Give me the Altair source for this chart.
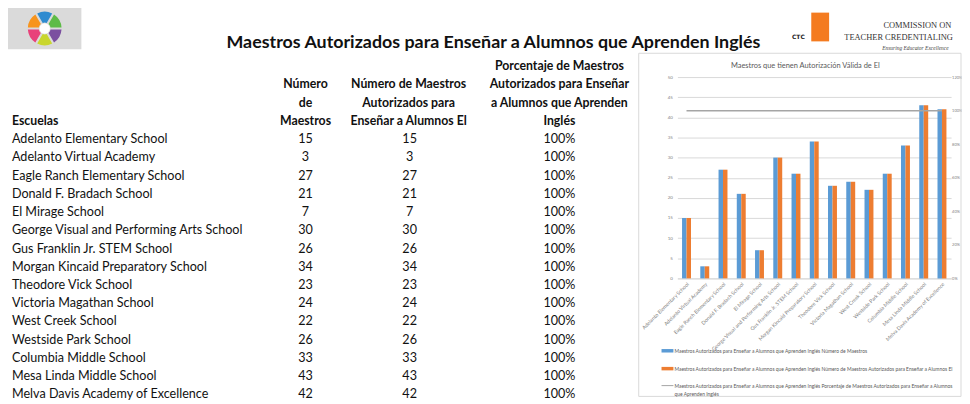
import altair as alt
import pandas as pd

# ---------------- data ----------------
escuelas = [
    "Adelanto Elementary School",
    "Adelanto Virtual Academy",
    "Eagle Ranch Elementary School",
    "Donald F. Bradach School",
    "El Mirage School",
    "George Visual and Performing Arts School",
    "Gus Franklin Jr. STEM School",
    "Morgan Kincaid Preparatory School",
    "Theodore Vick School",
    "Victoria Magathan School",
    "West Creek School",
    "Westside Park School",
    "Columbia Middle School",
    "Mesa Linda Middle School",
    "Melva Davis Academy of Excellence",
]
num_maestros = [15, 3, 27, 21, 7, 30, 26, 34, 23, 24, 22, 26, 33, 43, 42]
num_autorizados = [15, 3, 27, 21, 7, 30, 26, 34, 23, 24, 22, 26, 33, 43, 42]
porcentaje = [1.0, 1.0, 1.0, 1.0, 1.0, 1.0, 1.0, 1.0, 1.0, 1.0, 1.0, 1.0, 1.0, 1.0, 1.0]

titulo = "Maestros Autorizados para Enseñar a Alumnos que Aprenden Inglés"
titulo_grafica = "Maestros que tienen Autorización Válida de El"

serie_a = "Maestros Autorizados para Enseñar a Alumnos que Aprenden Inglés Número de Maestros"
serie_b = ("Maestros Autorizados para Enseñar a Alumnos que Aprenden Inglés Número de Maestros "
           "Autorizados para Enseñar a Alumnos El")
serie_c = ("Maestros Autorizados para Enseñar a Alumnos que Aprenden Inglés Porcentaje de Maestros "
           "Autorizados para Enseñar a Alumnos que Aprenden Inglés")
serie_c_l1 = ("Maestros Autorizados para Enseñar a Alumnos que Aprenden Inglés Porcentaje de Maestros "
              "Autorizados para Enseñar a Alumnos")
serie_c_l2 = "que Aprenden Inglés"

enc_escuelas = ["Escuelas"]
enc_col1 = ["Número", "de", "Maestros"]
enc_col2 = ["Número de Maestros", "Autorizados para", "Enseñar a Alumnos El"]
enc_col3 = ["Porcentaje de Maestros", "Autorizados para Enseñar", "a Alumnos que Aprenden", "Inglés"]

logo_colores = ["#F7941D", "#C9D62E", "#5DBB46", "#2E8BD0", "#7B4FA0", "#E8417A"]
logo_partes = [1, 1, 1, 1, 1, 1]

# ---------------- tables ----------------
tabla = pd.DataFrame({
    "Escuela": escuelas,
    "N": num_maestros,
    "NA": num_autorizados,
    "Pct": [f"{p:.0%}" for p in porcentaje],
    "r": list(range(len(escuelas))),
})

barras_df = pd.concat([
    pd.DataFrame({"Escuela": escuelas, "Serie": serie_a, "Valor": num_maestros}),
    pd.DataFrame({"Escuela": escuelas, "Serie": serie_b, "Valor": num_autorizados}),
], ignore_index=True)
linea_df = pd.DataFrame({"Escuela": escuelas, "Serie": serie_c, "Pct": porcentaje})

leyenda_df = pd.DataFrame({
    "Serie": [serie_a, serie_b, serie_c, serie_c],
    "t": [serie_a, serie_b, serie_c_l1, serie_c_l2],
    "k": [0.0, 1.0, 1.95, 2.42],
    "tipo": ["barra", "barra", "linea", "texto"],
})

def encabezado(lineas):
    n = len(lineas)
    return pd.DataFrame({"t": lineas, "r": [i - n for i in range(n)]})

# ---------------- layout helpers ----------------
OX, OY = 683, 76          # page position of plot-area origin
ROW0, ROWH = 138.5, 18.4  # page y of first table row, row spacing
R_TOP = (OY - ROW0) / ROWH
R_BOT = (OY + 203 - ROW0) / ROWH
row_scale = alt.Scale(domain=[R_TOP, R_BOT], reverse=True, nice=False, zero=False)

LEG0, LEGH = 352, 18      # page y of first legend entry, entry spacing
leg_scale = alt.Scale(domain=[(OY - LEG0) / LEGH, (OY + 203 - LEG0) / LEGH],
                      reverse=True, nice=False, zero=False)

FONT = "Lato"
TXT = "#111111"
GRIS = "#595959"

def px(x):
    return x - OX

def py(y):
    return y - OY

def col_texto(df, field, xpage, align, bold=False):
    return alt.Chart(df).mark_text(
        align=align, baseline="middle", font=FONT,
        fontSize=12.4 if bold else 12.7,
        fontWeight="bold" if bold else "normal", color=TXT
    ).encode(
        x=alt.value(px(xpage)),
        y=alt.Y("r:Q", scale=row_scale, axis=None),
        text=f"{field}:N",
    )

# ---------------- chart layers ----------------
colores = alt.Scale(domain=[serie_a, serie_b, serie_c], range=["#5B9BD5", "#ED7D31", "#A5A5A5"])

x_enc = alt.X(
    "Escuela:N", sort=escuelas,
    scale=alt.Scale(paddingInner=0.51, paddingOuter=0.255),
    axis=alt.Axis(title=None, labelAngle=-45, labelFontSize=5.2, labelColor="#7F7F7F",
                  labelFont=FONT, ticks=False, domainColor="#D9D9D9", labelPadding=3,
                  labelLimit=300),
)

barras = alt.Chart(barras_df).mark_bar().encode(
    x=x_enc,
    xOffset=alt.XOffset("Serie:N", sort=[serie_a, serie_b],
                        scale=alt.Scale(paddingInner=0, paddingOuter=0)),
    y=alt.Y("Valor:Q", scale=alt.Scale(domain=[0, 50], nice=False),
            axis=alt.Axis(orient="left", title=None, values=list(range(0, 51, 5)),
                          grid=True, gridColor="#D9D9D9", domain=False, ticks=False,
                          labelFontSize=4.5, labelColor="#7F7F7F", labelFont=FONT,
                          labelPadding=5)),
    color=alt.Color("Serie:N", scale=colores, legend=None),
)

linea = alt.Chart(linea_df).mark_line(strokeWidth=1.5).encode(
    x=alt.X("Escuela:N", sort=escuelas),
    y=alt.Y("Pct:Q", scale=alt.Scale(domain=[0, 1.2], nice=False),
            axis=alt.Axis(orient="right", title=None, format=".0%",
                          values=[0, 0.2, 0.4, 0.6, 0.8, 1.0, 1.2],
                          grid=False, domain=False, ticks=False, labelFontSize=4,
                          labelColor="#7F7F7F", labelFont=FONT, labelPadding=0.5)),
    color=alt.Color("Serie:N", scale=colores, legend=None),
)

# legend, drawn with the same colour scale
leg_y = alt.Y("k:Q", scale=leg_scale, axis=None)
leg_barras = alt.Chart(leyenda_df).transform_filter("datum.tipo === 'barra'").mark_rect(height=3.5).encode(
    x=alt.value(px(667)), x2=alt.value(px(679)), y=leg_y,
    color=alt.Color("Serie:N", scale=colores, legend=None),
)
leg_linea = alt.Chart(leyenda_df).transform_filter("datum.tipo === 'linea'").mark_rule(strokeWidth=1).encode(
    x=alt.value(px(667)), x2=alt.value(px(679)), y=leg_y,
    color=alt.Color("Serie:N", scale=colores, legend=None),
)
leg_textos = alt.Chart(leyenda_df).mark_text(
    font=FONT, fontSize=5, color=GRIS, align="left", baseline="middle"
).encode(x=alt.value(px(680)), y=leg_y, text="t:N")

marco = alt.Chart(pd.DataFrame({"k": [0]})).mark_rect(
    fillOpacity=0, stroke="#D9D9D9", strokeWidth=1
).encode(x=alt.value(px(644)), x2=alt.value(px(969)), y=alt.value(py(52)), y2=alt.value(py(398)))

titulo_g = alt.Chart(pd.DataFrame({"t": [titulo_grafica]})).mark_text(
    font=FONT, fontSize=7.5, color=GRIS, align="center", baseline="middle"
).encode(x=alt.value(px(812)), y=alt.value(py(65)), text="t:N")

# ---------------- header / logos ----------------
titulo_m = alt.Chart(pd.DataFrame({"t": [titulo]})).mark_text(
    font=FONT, fontSize=18, fontWeight="bold", color=TXT, align="center", baseline="middle"
).encode(x=alt.value(px(497.5)), y=alt.value(py(42)), text="t:N")

logo_fondo = alt.Chart(pd.DataFrame({"k": [0]})).mark_rect(color="#DADADA").encode(
    x=alt.value(px(8)), x2=alt.value(px(82)), y=alt.value(py(6)), y2=alt.value(py(48)))
logo_arco = alt.Chart(pd.DataFrame({"v": logo_partes, "c": logo_colores})).mark_arc(
    radius=17, radius2=6, padAngle=0.12
).encode(
    theta=alt.Theta("v:Q", stack=True, scale=alt.Scale(range=[-0.5236, 5.7596])),
    color=alt.Color("c:N", scale=None),
    order=alt.Order("c:N", sort="ascending"),
    x=alt.value(px(45)), y=alt.value(py(27)),
)
logo_centro = alt.Chart(pd.DataFrame({"k": [0]})).mark_circle(color="white", opacity=1, size=110).encode(
    x=alt.value(px(45)), y=alt.value(py(27)))

ctc_libro = alt.Chart(pd.DataFrame({"k": [0]})).mark_rect(color="#F47B20").encode(
    x=alt.value(px(818)), x2=alt.value(px(836)), y=alt.value(py(11)), y2=alt.value(py(40)))
ctc_txt = alt.Chart(pd.DataFrame({"t": ["CTC"]})).mark_text(
    font="DejaVu Sans", fontSize=6, fontWeight="bold", color="#222222", align="center", baseline="middle"
).encode(x=alt.value(px(805)), y=alt.value(py(36)), text="t:N")
ctc_l1 = alt.Chart(pd.DataFrame({"t": ["COMMISSION ON"]})).mark_text(
    font="Liberation Serif", fontSize=8.5, color="#333333", align="center", baseline="middle"
).encode(x=alt.value(px(925)), y=alt.value(py(24)), text="t:N")
ctc_l2 = alt.Chart(pd.DataFrame({"t": ["TEACHER CREDENTIALING"]})).mark_text(
    font="Liberation Serif", fontSize=8.5, color="#333333", align="center", baseline="middle"
).encode(x=alt.value(px(906)), y=alt.value(py(36)), text="t:N")
ctc_l3 = alt.Chart(pd.DataFrame({"t": ["Ensuring Educator Excellence"]})).mark_text(
    font="Liberation Serif", fontSize=5.5, fontStyle="italic", color="#444444", align="center", baseline="middle"
).encode(x=alt.value(px(923)), y=alt.value(py(47)), text="t:N")

# ---------------- table layers ----------------
t_esc = col_texto(tabla, "Escuela", 12, "left")
t_n = col_texto(tabla, "N", 308, "center")
t_na = col_texto(tabla, "NA", 413, "center")
t_pct = col_texto(tabla, "Pct", 564, "center")
h_esc = col_texto(encabezado(enc_escuelas), "t", 12, "left", bold=True)
h_1 = col_texto(encabezado(enc_col1), "t", 308, "center", bold=True)
h_2 = col_texto(encabezado(enc_col2), "t", 412, "center", bold=True)
h_3 = col_texto(encabezado(enc_col3), "t", 564, "center", bold=True)

chart = alt.layer(
    marco, barras, linea, leg_barras, leg_linea, leg_textos, titulo_g,
    titulo_m, logo_fondo, logo_arco, logo_centro,
    ctc_libro, ctc_txt, ctc_l1, ctc_l2, ctc_l3,
    t_esc, t_n, t_na, t_pct, h_esc, h_1, h_2, h_3,
).resolve_scale(
    y="independent"
).properties(
    width=276, height=203,
    autosize=alt.AutoSizeParams(type="none"),
    padding={"left": OX - 8, "top": OY - 8, "right": 970 - (OX + 276), "bottom": 404 - (OY + 203)},
    background="white",
).configure_view(strokeWidth=0)

chart.save("out.html", embed_options={"renderer": "svg", "actions": False})
